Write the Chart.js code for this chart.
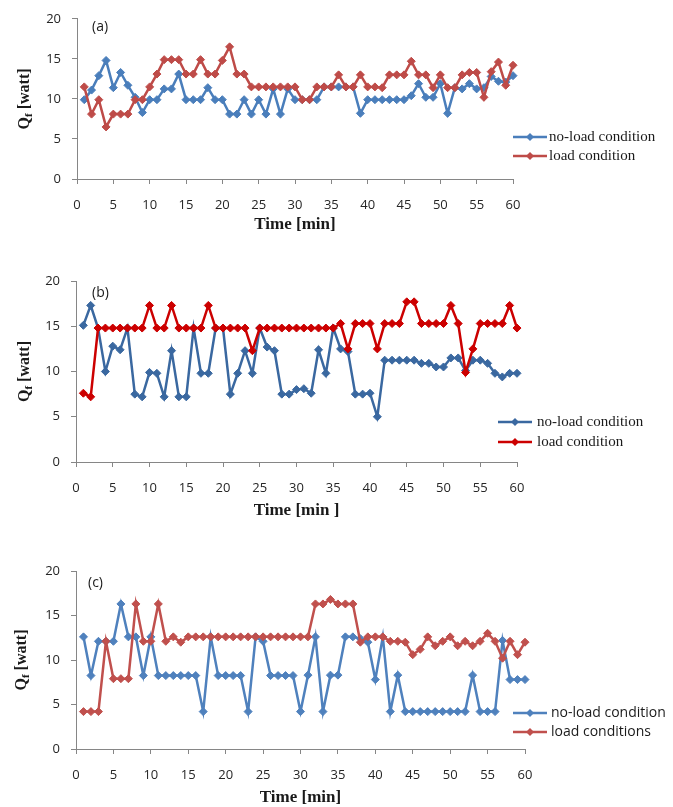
<!DOCTYPE html>
<html lang="en">
<head>
    <meta charset="UTF-8">
    <title>Heat flow Qf over time</title>
    <script src="https://cdn.jsdelivr.net/npm/chart.js@4"></script>
    <style>
        body { margin: 0; background: #fff; }
        .panel { position: absolute; left: 0; width: 673px; }
    </style>
</head>
<body>
    <div class="panel" style="top:0px;height:240px"><canvas id="chart-a" width="673" height="240"></canvas></div>
    <div class="panel" style="top:262px;height:270px"><canvas id="chart-b" width="673" height="270"></canvas></div>
    <div class="panel" style="top:550px;height:257px"><canvas id="chart-c" width="673" height="257"></canvas></div>

    <script>
        // time in minutes (same for all three tests)
        const minutes = [1, 2, 3, 4, 5, 6, 7, 8, 9, 10, 11, 12, 13, 14, 15, 16, 17, 18, 19, 20,
            21, 22, 23, 24, 25, 26, 27, 28, 29, 30, 31, 32, 33, 34, 35, 36, 37, 38, 39, 40,
            41, 42, 43, 44, 45, 46, 47, 48, 49, 50, 51, 52, 53, 54, 55, 56, 57, 58, 59, 60];
        const yTicks = [0, 5, 10, 15, 20];
        const xTicks = [0, 5, 10, 15, 20, 25, 30, 35, 40, 45, 50, 55, 60];

        // (a)
        const noLoadA = [9.9, 11.1, 12.9, 14.8, 11.4, 13.3, 11.7, 10.2, 8.3, 9.9, 9.9, 11.25, 11.25, 13.1, 9.9, 9.9, 9.9, 11.4, 9.9, 9.9,
            8.1, 8.1, 9.9, 8.1, 9.9, 8.1, 11.25, 8.1, 11.25, 9.9, 9.9, 9.9, 9.9, 11.5, 11.5, 11.5, 11.5, 11.5, 8.2, 9.9,
            9.9, 9.9, 9.9, 9.9, 9.9, 10.4, 11.9, 10.2, 10.2, 11.9, 8.2, 11.4, 11.25, 11.9, 11.25, 11.4, 12.8, 12.2, 12.1, 12.9];
        const loadA = [11.5, 8.1, 9.9, 6.5, 8.1, 8.1, 8.1, 9.9, 9.9, 11.5, 13.1, 14.9, 14.9, 14.9, 13.1, 13.1, 14.9, 13.1, 13.1, 14.8,
            16.5, 13.1, 13.1, 11.5, 11.5, 11.5, 11.5, 11.5, 11.5, 11.5, 9.9, 9.9, 11.5, 11.5, 11.5, 13.0, 11.5, 11.5, 13.0, 11.5,
            11.5, 11.4, 13.0, 13.0, 13.0, 14.7, 13.0, 13.0, 11.4, 13.0, 11.4, 11.4, 13.0, 13.3, 13.3, 10.2, 13.4, 14.6, 11.7, 14.2];

        // (b)
        const noLoadB = [15.1, 17.3, 14.8, 10.0, 12.8, 12.4, 14.8, 7.5, 7.2, 9.9, 9.8, 7.2, 12.3, 7.2, 7.2, 14.8, 9.8, 9.8, 14.8, 14.8,
            7.5, 9.8, 12.3, 9.8, 14.8, 12.7, 12.3, 7.5, 7.5, 8.0, 8.1, 7.6, 12.4, 9.8, 14.8, 12.5, 12.2, 7.5, 7.5, 7.6,
            5.0, 11.25, 11.25, 11.25, 11.25, 11.25, 10.9, 10.9, 10.5, 10.5, 11.5, 11.5, 10.1, 11.25, 11.25, 10.9, 9.8, 9.4, 9.8, 9.8];
        const loadB = [7.6, 7.2, 14.8, 14.8, 14.8, 14.8, 14.8, 14.8, 14.8, 17.3, 14.8, 14.8, 17.3, 14.8, 14.8, 14.8, 14.8, 17.3, 14.8, 14.8,
            14.8, 14.8, 14.8, 12.3, 14.8, 14.8, 14.8, 14.8, 14.8, 14.8, 14.8, 14.8, 14.8, 14.8, 14.8, 15.3, 12.5, 15.3, 15.3, 15.3,
            12.5, 15.3, 15.3, 15.3, 17.7, 17.7, 15.3, 15.3, 15.3, 15.3, 17.3, 15.3, 9.9, 12.5, 15.3, 15.3, 15.3, 15.3, 17.3, 14.8];

        // (c)
        const noLoadC = [12.6, 8.25, 12.1, 12.1, 12.1, 16.3, 12.6, 12.6, 8.25, 12.6, 8.25, 8.25, 8.25, 8.25, 8.25, 8.25, 4.2, 12.6, 8.25, 8.25,
            8.25, 8.25, 4.2, 12.6, 12.1, 8.25, 8.25, 8.25, 8.25, 4.2, 8.3, 12.6, 4.2, 8.3, 8.3, 12.6, 12.6, 12.4, 12.0, 7.8,
            12.6, 4.2, 8.3, 4.2, 4.2, 4.2, 4.2, 4.2, 4.2, 4.2, 4.2, 4.2, 8.3, 4.2, 4.2, 4.2, 12.2, 7.8, 7.8, 7.8];
        const loadC = [4.2, 4.2, 4.2, 12.1, 7.9, 7.9, 7.9, 16.3, 12.1, 12.1, 16.3, 12.1, 12.6, 12.0, 12.6, 12.6, 12.6, 12.6, 12.6, 12.6,
            12.6, 12.6, 12.6, 12.6, 12.6, 12.6, 12.6, 12.6, 12.6, 12.6, 12.6, 16.3, 16.3, 16.8, 16.3, 16.3, 16.3, 12.0, 12.6, 12.6,
            12.6, 12.1, 12.1, 12.0, 10.6, 11.2, 12.6, 11.6, 12.1, 12.6, 11.6, 12.1, 11.6, 12.1, 13.0, 12.1, 10.2, 12.1, 10.6, 12.0];

        const Y_W = 40, X_H = 34;

        const decorations = {
            id: 'decorations',
            afterDraw(chart, args, o) {
                const ctx = chart.ctx;
                const a = chart.chartArea;
                ctx.save();
                ctx.fillStyle = '#1a1a1a';
                ctx.textBaseline = 'middle';

                // panel tag
                ctx.font = '14px "Open Sans"';
                ctx.textAlign = 'left';
                ctx.fillText(o.tag, o.tagX, o.tagY);

                // x title
                ctx.font = 'bold 17px "Liberation Serif"';
                ctx.textAlign = 'center';
                ctx.fillText(o.xTitle, (a.left + a.right) / 2, o.xTitleY);

                // y title, Q with subscript f
                ctx.save();
                ctx.translate(o.yTitleX, (a.top + a.bottom) / 2);
                ctx.rotate(-Math.PI / 2);
                ctx.textAlign = 'left';
                const big = 'bold 16px "Liberation Serif"', small = 'bold 11px "Liberation Serif"';
                ctx.font = big;
                const wQ = ctx.measureText('Q').width, wRest = ctx.measureText(' [watt]').width;
                ctx.font = small;
                const wF = ctx.measureText('f').width;
                let x = -(wQ + wF + wRest) / 2;
                ctx.font = big;
                ctx.fillText('Q', x, 0);
                ctx.font = small;
                ctx.fillText('f', x + wQ, 4);
                ctx.font = big;
                ctx.fillText(' [watt]', x + wQ + wF, 0);
                ctx.restore();

                // legend
                ctx.font = o.legendFont;
                ctx.textAlign = 'left';
                chart.data.datasets.forEach((ds, i) => {
                    const y = o.legendY[i];
                    ctx.strokeStyle = ds.borderColor;
                    ctx.lineWidth = 2.5;
                    ctx.beginPath();
                    ctx.moveTo(o.legendX, y);
                    ctx.lineTo(o.legendX + 34, y);
                    ctx.stroke();
                    const cx = o.legendX + 17;
                    ctx.fillStyle = ds.borderColor;
                    ctx.beginPath();
                    ctx.moveTo(cx, y - 4);
                    ctx.lineTo(cx + 4, y);
                    ctx.lineTo(cx, y + 4);
                    ctx.lineTo(cx - 4, y);
                    ctx.closePath();
                    ctx.fill();
                    ctx.fillStyle = '#1a1a1a';
                    ctx.fillText(o.legendLabels[i], o.legendX + o.legendGap, y);
                });
                ctx.restore();
            }
        };

        function makeChart(id, height, area, series, colors, deco) {
            const datasets = series.map((values, i) => ({
                data: minutes.map((m, k) => ({ x: m, y: values[k] })),
                borderColor: colors[i],
                backgroundColor: colors[i],
                borderWidth: 2.5,
                pointStyle: 'rectRot',
                pointRadius: 4,
                pointBorderWidth: 1,
                tension: 0,
                clip: false
            }));
            // load series sits on top of no-load in the reference
            datasets[0].order = 1;
            datasets[1].order = 0;

            const axisGrid = { drawOnChartArea: false, drawTicks: true, tickLength: 5, color: '#868686' };
            const tickFont = { family: 'Open Sans', size: 13 };

            return new Chart(document.getElementById(id), {
                type: 'line',
                data: { datasets },
                options: {
                    responsive: false,
                    animation: false,
                    layout: {
                        padding: {
                            left: area.left - Y_W,
                            right: 673 - area.right,
                            top: area.top,
                            bottom: height - area.bottom - X_H
                        }
                    },
                    plugins: {
                        legend: { display: false },
                        tooltip: { enabled: false },
                        decorations: deco
                    },
                    scales: {
                        x: {
                            type: 'linear',
                            min: 0, max: 60,
                            afterBuildTicks: s => { s.ticks = xTicks.map(v => ({ value: v })); },
                            afterFit: s => { s.height = X_H; },
                            grid: axisGrid,
                            border: { color: '#868686' },
                            ticks: { color: '#262626', font: tickFont, padding: 13, maxRotation: 0, autoSkip: false }
                        },
                        y: {
                            min: 0, max: 20,
                            afterBuildTicks: s => { s.ticks = yTicks.map(v => ({ value: v })); },
                            afterFit: s => { s.width = Y_W; },
                            grid: axisGrid,
                            border: { color: '#868686' },
                            ticks: { color: '#262626', font: tickFont, padding: 11 }
                        }
                    }
                },
                plugins: [decorations]
            });
        }

        makeChart('chart-a', 240, { left: 77, right: 513, top: 18, bottom: 179 },
            [noLoadA, loadA], ['#4a7ebb', '#be4b48'], {
                tag: '(a)', tagX: 92, tagY: 27,
                xTitle: 'Time [min]', xTitleY: 225,
                yTitleX: 25,
                legendX: 513, legendGap: 36, legendY: [137, 156],
                legendLabels: ['no-load condition', 'load condition'],
                legendFont: '15px "Liberation Serif"'
            });

        makeChart('chart-b', 270, { left: 76, right: 517, top: 19, bottom: 200 },
            [noLoadB, loadB], ['#3a68a0', '#cc0000'], {
                tag: '(b)', tagX: 92, tagY: 31,
                xTitle: 'Time [min ]', xTitleY: 249,
                yTitleX: 25,
                legendX: 498, legendGap: 39, legendY: [160, 180],
                legendLabels: ['no-load condition', 'load condition'],
                legendFont: '15px "Liberation Serif"'
            });

        makeChart('chart-c', 257, { left: 76, right: 525, top: 21, bottom: 199 },
            [noLoadC, loadC], ['#4f81bd', '#c0504d'], {
                tag: '(c)', tagX: 88, tagY: 33,
                xTitle: 'Time [min]', xTitleY: 248,
                yTitleX: 22,
                legendX: 513, legendGap: 38, legendY: [163, 182],
                legendLabels: ['no-load condition', 'load conditions'],
                legendFont: '14px "Open Sans"'
            });
    </script>
</body>
</html>
